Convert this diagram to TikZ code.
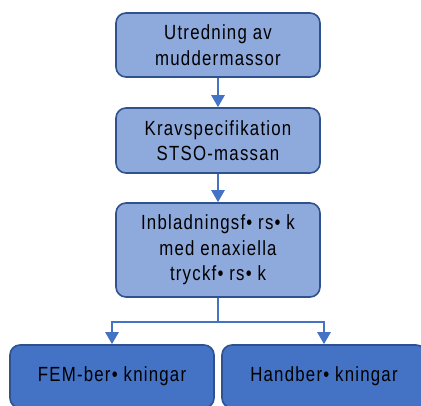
\documentclass[tikz,border=0pt]{standalone}
\usepackage{fontspec}
\setmainfont{Liberation Sans}[FakeStretch=0.82,LetterSpace=6]
\usetikzlibrary{arrows.meta}
\definecolor{lightfill}{HTML}{8EA9DB}
\definecolor{darkfill}{HTML}{4472C4}
\definecolor{edge}{HTML}{2F528F}
\definecolor{flow}{HTML}{4472C4}
\begin{document}
\begin{tikzpicture}[x=1pt,y=-1pt,
  stagebox/.style={draw=edge,line width=1.6pt,rounded corners=10pt,
    minimum width=204pt,align=center,inner sep=0pt,
    font=\fontsize{20.5}{25.5}\selectfont},
  upper/.style={stagebox,fill=lightfill},
  lower/.style={stagebox,fill=darkfill},
  flowline/.style={draw=flow,line width=2.4pt,-{Triangle[width=13pt,length=12pt]}}]
\useasboundingbox (0,0) rectangle (421,406);
\node[upper,minimum height=64pt] (utr) at (218,45) {Utredning av\\muddermassor};
\node[upper,minimum height=65pt] (krav) at (218,140.5) {Kravspecifikation\\STSO-massan};
\node[upper,minimum height=94pt] (inbl) at (218,250) {Inbladningsf• rs• k\\med enaxiella\\tryckf• rs• k};
\node[lower,minimum height=63pt] (fem) at (112,376.5) {FEM-ber• kningar};
\node[lower,minimum height=63pt] (hand) at (324,376.5) {Handber• kningar};
\coordinate (split) at (218,322);
\draw[flowline] (utr) -- (krav);
\draw[flowline] (krav) -- (inbl);
\draw[draw=flow,line width=2.4pt] (inbl.south) -- (split);
\draw[flowline] (split) -| (fem.north);
\draw[flowline] (split) -| (hand.north);
\end{tikzpicture}
\end{document}
